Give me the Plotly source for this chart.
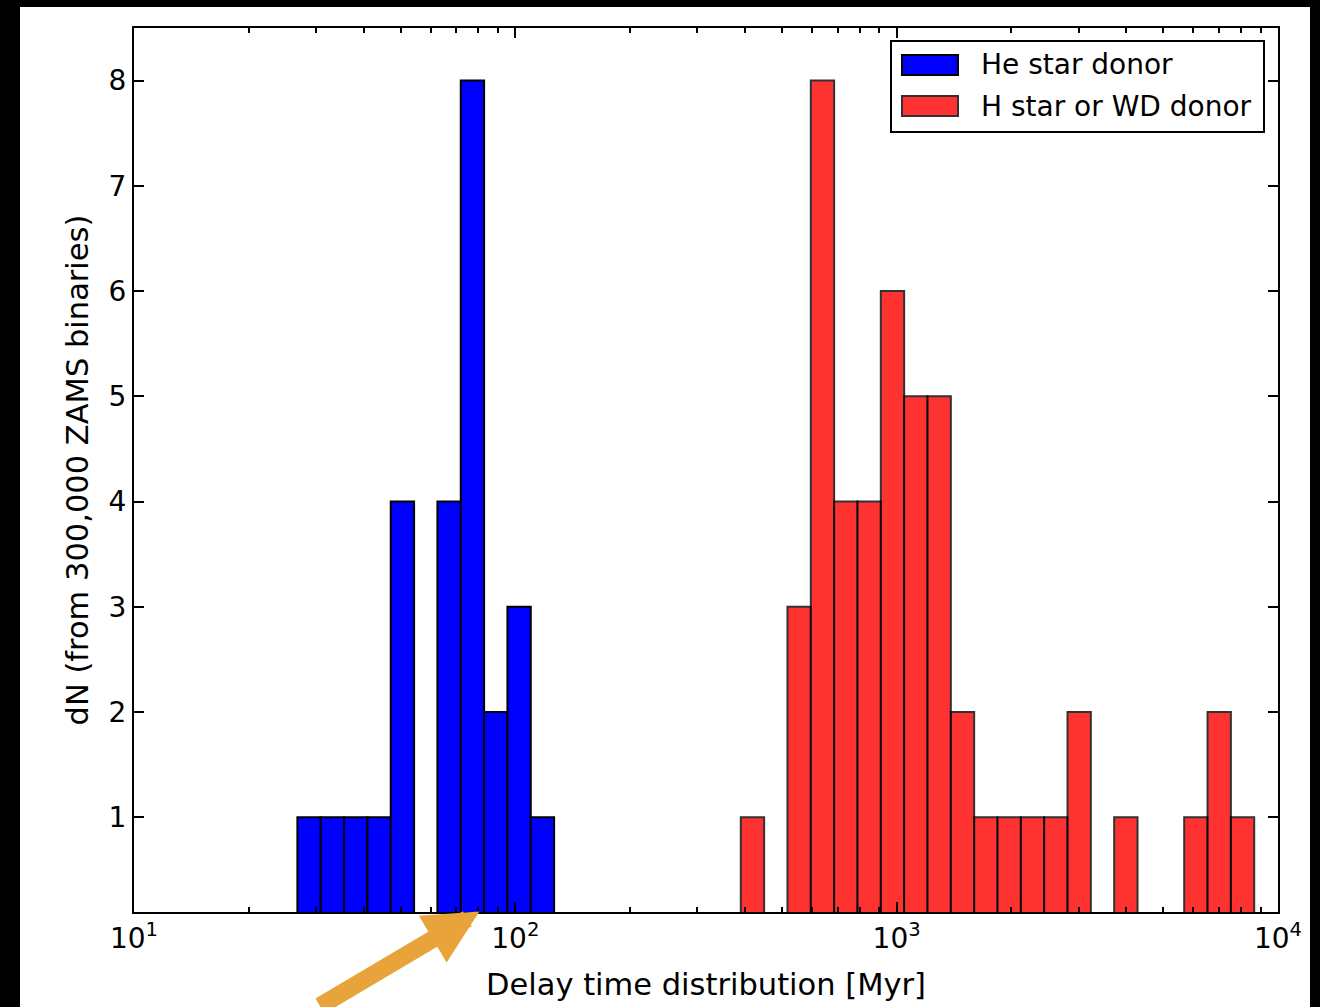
import numpy as np
import plotly.graph_objects as go

# ---- data ----
# 41 log-spaced histogram bins (log10 of Myr) spanning the populated range
bin_log_lo = 1.4285
bin_log_hi = 3.9376
n_bins = 41

he_counts = [1, 1, 1, 1, 4, 0, 4, 8, 2, 3, 1] + [0] * 30
h_counts = [0] * 19 + [1, 0, 3, 8, 4, 4, 6, 5, 5, 2, 1, 1, 1, 1, 2, 0, 1, 0, 0, 1, 2, 1]

series_names = ["He star donor", "H star or WD donor"]
x_tick_vals = [10, 100, 1000, 10000]
x_tick_text = ["10<sup>1</sup>", "10<sup>2</sup>", "10<sup>3</sup>", "10<sup>4</sup>"]
x_minor_vals = [m * d for d in (10, 100, 1000) for m in range(2, 10)]
y_tick_vals = [1, 2, 3, 4, 5, 6, 7, 8]
x_title = "Delay time distribution [Myr]"
y_title = "dN (from 300,000 ZAMS binaries)"
arrow_target_myr = 80.5

# ---- layout geometry ----
W, H = 1320, 1007
L, R, T, B = 134, 42, 28, 95
PW, PH = W - L - R, H - T - B

def px(xp):
    return (xp - L) / PW

def py(yp):
    return (H - B - yp) / PH

edges = np.logspace(bin_log_lo, bin_log_hi, n_bins + 1)
lefts = edges[:-1]
widths = edges[1:] - edges[:-1]

FONT = "DejaVu Sans"
fig = go.Figure()

fig.add_trace(go.Bar(
    x=lefts, y=he_counts, width=widths, offset=0,
    marker=dict(color="#0000ff", line=dict(color="black", width=2)),
    name=series_names[0], showlegend=False,
))
fig.add_trace(go.Bar(
    x=lefts, y=h_counts, width=widths, offset=0,
    marker=dict(color="#ff0000", opacity=0.8, line=dict(color="black", width=2)),
    name=series_names[1], showlegend=False,
))

axis_common = dict(
    showline=True, linecolor="black", linewidth=2, mirror="ticks",
    ticks="inside", tickcolor="black", tickwidth=1.5,
    showgrid=False, zeroline=False,
    tickfont=dict(family=FONT, size=28, color="black"),
)

fig.update_xaxes(
    type="log", range=[1, 4],
    tickvals=x_tick_vals, ticktext=x_tick_text, ticklen=10,
    minor=dict(tickvals=x_minor_vals, ticks="inside", ticklen=5,
               tickwidth=1.5, tickcolor="black", showgrid=False),
    title=dict(text=x_title, font=dict(family=FONT, size=30.5, color="black"), standoff=20),
    **axis_common,
)
fig.update_yaxes(
    range=[0.1, 8.5], tickvals=y_tick_vals, ticklen=10,
    title=dict(text=y_title, font=dict(family=FONT, size=30.5, color="black"), standoff=11),
    **axis_common,
)

shapes = [
    # white figure area inside the black frame
    dict(type="rect", xref="paper", yref="paper", layer="below",
         x0=px(20), x1=px(1310), y0=py(1010), y1=py(7),
         fillcolor="white", line=dict(width=0)),
    # legend frame
    dict(type="rect", xref="paper", yref="paper",
         x0=px(891), x1=px(1264), y0=py(132), y1=py(41),
         fillcolor="white", line=dict(color="black", width=2)),
    # legend patches
    dict(type="rect", xref="paper", yref="paper",
         x0=px(902), x1=px(958), y0=py(75), y1=py(55),
         fillcolor="#0000ff", line=dict(color="black", width=2)),
    dict(type="rect", xref="paper", yref="paper",
         x0=px(902), x1=px(958), y0=py(116), y1=py(96),
         fillcolor="#ff0000", opacity=0.8, line=dict(color="black", width=2)),
]

annotations = [
    dict(text=series_names[0], xref="paper", yref="paper", x=px(979), y=py(65),
         xanchor="left", yanchor="middle", showarrow=False,
         font=dict(family=FONT, size=28, color="black")),
    dict(text=series_names[1], xref="paper", yref="paper", x=px(979), y=py(106),
         xanchor="left", yanchor="middle", showarrow=False,
         font=dict(family=FONT, size=28, color="black")),
    dict(text="", xref="x", yref="paper", x=np.log10(arrow_target_myr), y=py(911.5),
         showarrow=True, arrowhead=2, arrowwidth=17.5, arrowsize=0.62,
         arrowcolor="#E8A33A", ax=-161, ay=119, standoff=0),
]

fig.update_layout(
    width=W, height=H,
    margin=dict(l=L, r=R, t=T, b=B, autoexpand=False),
    paper_bgcolor="black", plot_bgcolor="white",
    barmode="overlay", showlegend=False,
    shapes=shapes, annotations=annotations,
    font=dict(family=FONT, color="black"),
)

fig.write_html(
    "out.html",
    config={"displayModeBar": False},
    post_script="document.body.style.margin='0';document.body.style.overflow='hidden';",
)
